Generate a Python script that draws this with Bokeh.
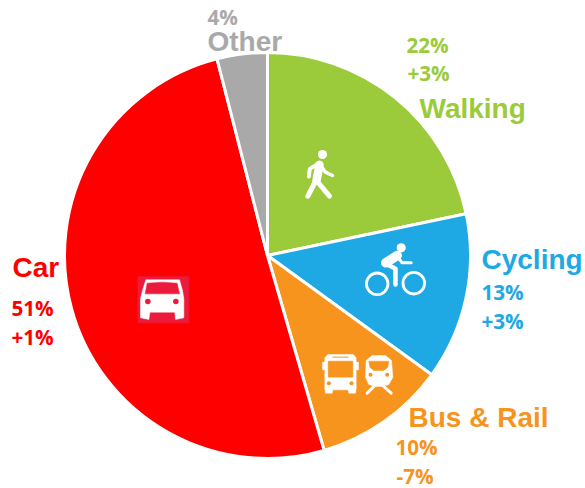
from math import pi
import numpy as np
from bokeh.plotting import figure
from bokeh.models import ColumnDataSource, Range1d
from bokeh.core.properties import value
from bokeh.embed import file_html
from bokeh.resources import INLINE

categories = ["Walking", "Cycling", "Bus & Rail", "Car", "Other"]
shares = [21.7, 13.3, 10.5, 50.5, 4]
share_labels = ["22%", "13%", "10%", "51%", "4%"]
change_labels = ["+3%", "+3%", "-7%", "+1%", ""]
colors = ["#9BCB3B", "#1FA9E4", "#F7941E", "#FF0000", "#A9A9A9"]

W, H = 585, 488
p = figure(width=W, height=H, x_range=Range1d(0, W), y_range=Range1d(0, H),
           output_backend="svg", toolbar_location=None, min_border=0,
           background_fill_color="white", border_fill_color="white")
p.axis.visible = False
p.grid.visible = False
p.outline_line_color = None

X = lambda v: v
Y = lambda v: H - v

# pie: clockwise from 12 o'clock
frac = np.cumsum([0] + shares) / sum(shares)
start = pi / 2 - 2 * pi * frac[1:]
end = pi / 2 - 2 * pi * frac[:-1]
src = ColumnDataSource(dict(start=start, end=end, color=colors, cat=categories, share=shares))
p.wedge(x=X(267), y=Y(255), radius=203, radius_units="screen", start_angle="start", end_angle="end",
        fill_color="color", line_color="white", line_width=3, source=src)

WHITE = "white"
def poly(pts, color=WHITE):
    p.patch([X(a) for a, b in pts], [Y(b) for a, b in pts], fill_color=color, line_color=color, line_width=0.5)
def line(pts, w, color=WHITE):
    p.line([X(a) for a, b in pts], [Y(b) for a, b in pts], line_color=color, line_width=w,
           line_cap="round", line_join="round")
def dot(x, y, r, fill=WHITE, lc=None, lw=0):
    p.circle(x=[X(x)], y=[Y(y)], radius=r, radius_units="screen", fill_color=fill, line_color=lc, line_width=lw)

# walker
zw = lambda pts: [(280 + a / 3, 130 + b / 3) for a, b in pts]
dot(322, 154, 4.6)
line(zw([(117, 103), (108, 150)]), 8.5)
line(zw([(106, 150), (82, 197)]), 5)
line(zw([(108, 150), (147, 197)]), 5)
line(zw([(112, 100), (88, 115), (85, 138)]), 4)
line(zw([(118, 102), (135, 125), (156, 135)]), 3.5)

# cyclist
zc = zw
dot(400.7, 247.3, 4.6)
dot(376.7, 283.3, 10.8, fill=None, lc=WHITE, lw=2.8)
dot(413.3, 282.7, 10.8, fill=None, lc=WHITE, lw=2.8)
line(zc([(316, 397), (350, 375)]), 9.5)
line(zc([(350, 378), (365, 397), (392, 397)]), 3)
line(zc([(316, 400), (345, 415), (345, 462)]), 4.5)

# bus and train
zb = lambda pts: [(300 + a / 3, 340 + b / 3) for a, b in pts]
orange = colors[2]
poly(zb([(82, 42), (158, 42), (167, 52), (167, 145), (165, 158), (145, 158), (143, 148), (97, 148), (95, 158), (75, 158), (73, 145), (73, 52)]))
poly(zb([(66, 65), (74, 65), (74, 88), (66, 88)]))
poly(zb([(166, 65), (174, 65), (174, 88), (166, 88)]))
poly(zb([(83, 62), (157, 62), (157, 110), (83, 110)]), orange)
line(zb([(97, 50), (143, 50)]), 1, orange)
dot(300 + 85 / 3, 340 + 128 / 3, 2, orange)
dot(300 + 153 / 3, 340 + 128 / 3, 2, orange)
poly(zb([(197, 60), (215, 45), (255, 45), (273, 60), (277, 110), (265, 132), (245, 138), (225, 138), (205, 132), (195, 110)]))
poly(zb([(205, 62), (265, 62), (262, 80), (250, 90), (220, 90), (208, 80)]), orange)
dot(300 + 210 / 3, 340 + 103 / 3, 2, orange)
dot(300 + 260 / 3, 340 + 103 / 3, 2, orange)
line(zb([(220, 138), (200, 158)]), 3)
line(zb([(250, 138), (272, 158)]), 3)

# car
zr = lambda pts: [(120 + a / 3, 260 + b / 3) for a, b in pts]
poly(zr([(52, 48), (205, 48), (205, 187), (52, 187)]), "#EC1B3C")
poly(zr([(76, 58), (177, 58), (186, 90), (190, 115), (190, 172), (165, 177), (163, 155), (88, 155), (85, 177), (60, 172), (60, 115), (66, 90)]))
poly(zr([(80, 68), (125, 65), (170, 68), (177, 100), (74, 100)]), "#EC1B3C")
dot(120 + 82 / 3, 260 + 123 / 3, 2.8, "#EC1B3C")
dot(120 + 166 / 3, 260 + 123 / 3, 2.8, "#EC1B3C")

# labels
def label(x, y, txt, color, size, font, anchor="left"):
    p.text(x=[X(x)], y=[Y(y)], text=[txt], text_color=color, text_font_size=size, text_font=value(font),
           text_font_style="bold", text_align=anchor, text_baseline="middle")

names_pos = [(419, 108), (481, 259), (408, 417), (12, 267), (207, 41)]
share_pos = [(406, 44), (481, 291), (395, 446), (11, 307), (207, 16)]
change_pos = [(407, 72), (481, 320), (396, 475), (11, 336), None]
for i, c in enumerate(categories):
    label(*names_pos[i], c, colors[i], "21pt", "Liberation Sans")
    label(*share_pos[i], share_labels[i], colors[i], "15.5pt", "Open Sans")
    if change_pos[i]:
        label(*change_pos[i], change_labels[i], colors[i], "15.5pt", "Open Sans")

open("out.html", "w").write(file_html(p, INLINE))
